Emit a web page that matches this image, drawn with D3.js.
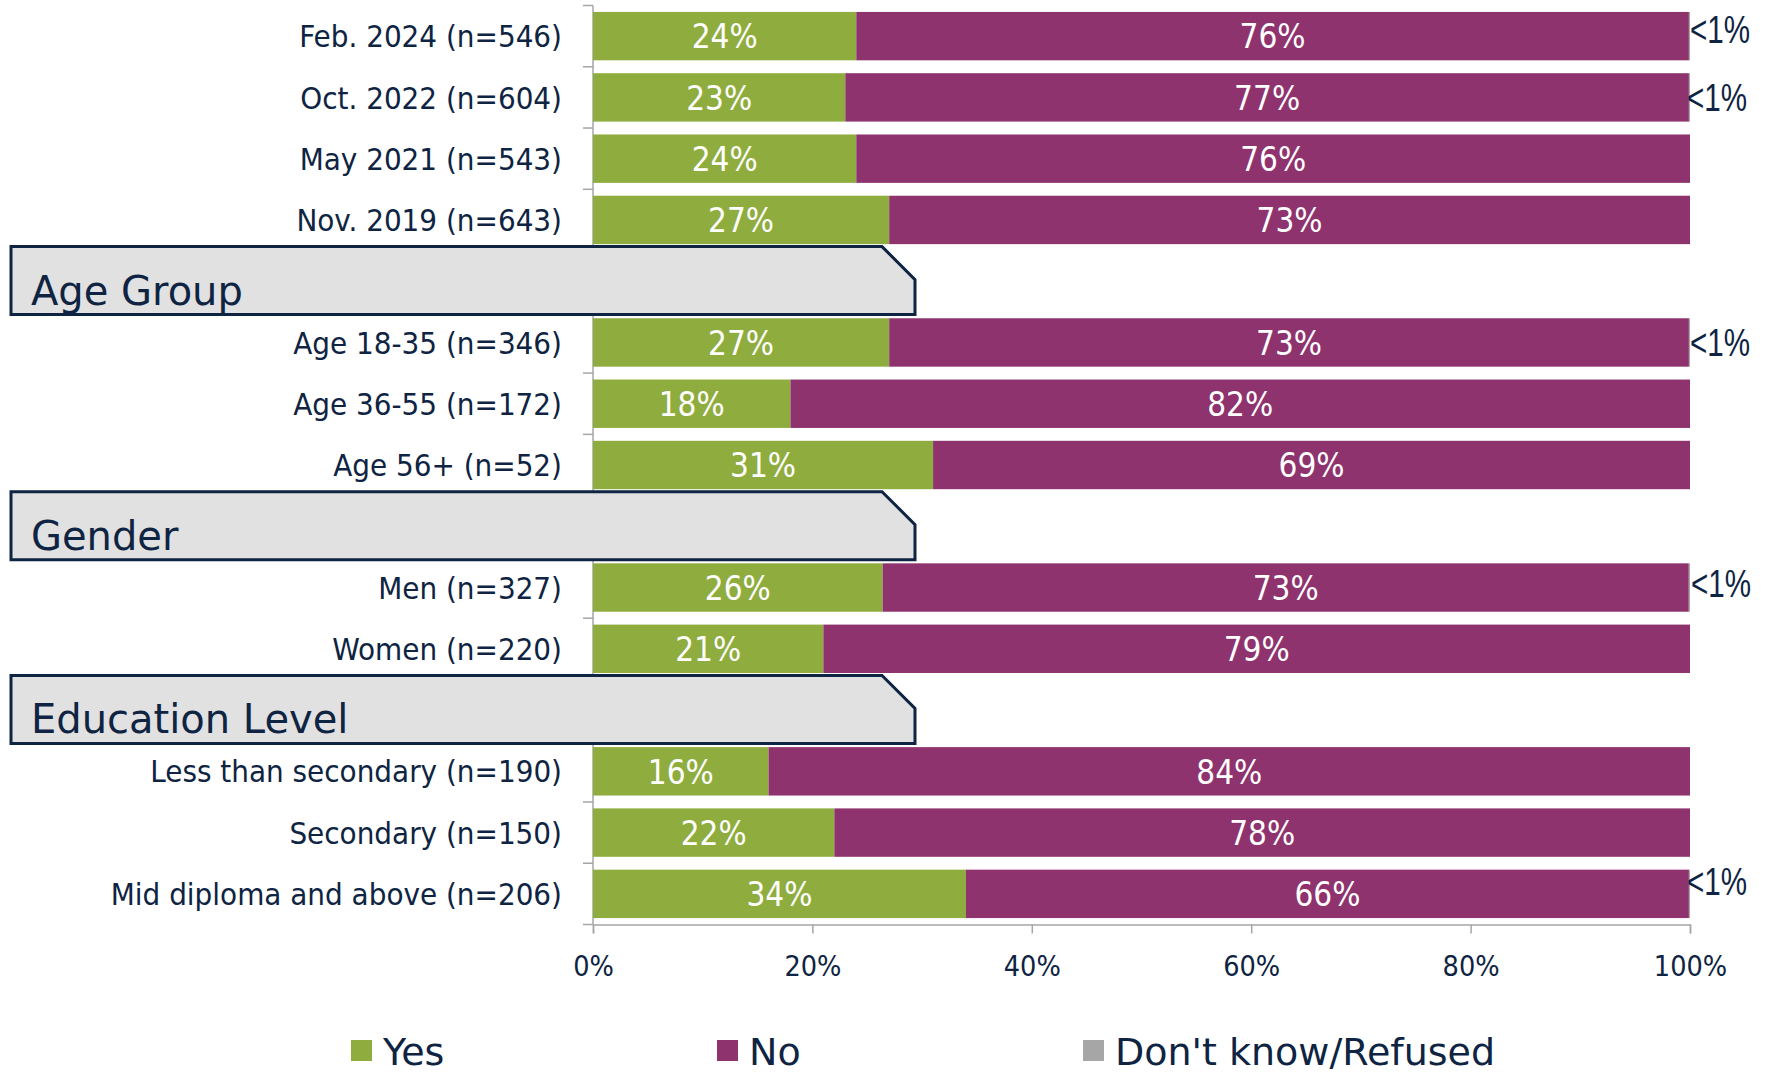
<!DOCTYPE html>
<html>
<head>
<meta charset="utf-8">
<title>Yes / No by group</title>
<script src="https://cdn.jsdelivr.net/npm/d3@7"></script>
<style>
*{
	margin: 0;
	padding: 0;
}
body{
	background: #fff;
}
text{
	font-family: "DejaVu Sans Condensed", "DejaVu Sans", sans-serif;
}
</style>
</head>
<body>
<script>

	// rows in order, header rows take a band but have no bar
	var categories = ["Feb. 2024 (n=546)", "Oct. 2022 (n=604)", "May 2021 (n=543)", "Nov. 2019 (n=643)",
		"Age Group", "Age 18-35 (n=346)", "Age 36-55 (n=172)", "Age 56+ (n=52)",
		"Gender", "Men (n=327)", "Women (n=220)",
		"Education Level", "Less than secondary (n=190)", "Secondary (n=150)", "Mid diploma and above (n=206)"];
	var headers = ["Age Group", "Gender", "Education Level"];

	var yes = [24, 23, 24, 27, null, 27, 18, 31, null, 26.4, 21, null, 16, 22, 34];
	var no  = [75.9, 76.9, 76, 73, null, 72.9, 82, 69, null, 73.49, 79, null, 84, 78, 65.9];
	var dk  = [0.1, 0.1, 0, 0, null, 0.1, 0, 0, null, 0.11, 0, null, 0, 0, 0.1];

	var seriesNames = ["Yes", "No", "Don't know/Refused"];
	var xTicks = [0, 20, 40, 60, 80, 100];

	var colors = ["#8fad3e", "#8f336e", "#a6a6a6"];
	var navy = "#0e2442";

	//"<1%" labels are hand placed a bit in the original [dx, dy]
	var dkNudge = {0: [0, -7], 1: [-3, 0], 5: [0, 0], 9: [1, -4], 14: [-3, -13]};

	var width = 1768;
	var height = 1074;

	var svg = d3.select("body")
				.append("svg")
				.attr("width", width)
				.attr("height", height);

	var x = d3.scaleLinear().domain([0, 100]).range([593, 1690]);
	var y = d3.scaleBand().domain(categories).range([5.5, 924.5])
				.paddingInner(0.21).paddingOuter(0.105);
	var step = y.step();
	var bandTop = (c) => y(c) - step * 0.105;

	var rows = categories.map((c, i) => ({cat: c, yes: yes[i], no: no[i], dk: dk[i], i: i}))
				.filter((d) => headers.indexOf(d.cat) < 0);

	var stack = d3.stack().keys(["yes", "no", "dk"]);
	var series = stack(rows);

	// y axis line + ticks on band edges
	var axisCol = "#a6a6a6";
	svg.append("line")
		.attr("x1", x(0)).attr("x2", x(0))
		.attr("y1", bandTop(categories[0])).attr("y2", y.range()[1])
		.attr("stroke", axisCol).attr("stroke-width", 1.5);

	var edges = d3.range(categories.length + 1).map((k) => y.range()[0] + k * step);
	svg.selectAll(".ytick").data(edges).enter().append("line")
		.attr("x1", x(0) - 10).attr("x2", x(0))
		.attr("y1", (d) => d).attr("y2", (d) => d)
		.attr("stroke", axisCol).attr("stroke-width", 1.5);

	// bars
	var layer = svg.selectAll(".layer").data(series).enter().append("g")
		.attr("fill", (d, k) => colors[k]);

	layer.selectAll("rect").data((d) => d).enter().append("rect")
		.attr("x", (d) => x(d[0]))
		.attr("y", (d) => y(d.data.cat))
		.attr("width", (d) => x(d[1]) - x(d[0]))
		.attr("height", y.bandwidth());

	// value labels in the bars
	series.slice(0, 2).forEach(function(s){
		svg.selectAll(".val" + s.key).data(s).enter().append("text")
			.attr("x", (d) => (x(d[0]) + x(d[1])) / 2)
			.attr("y", (d) => y(d.data.cat) + y.bandwidth() / 2)
			.attr("dy", "0.37em")
			.attr("text-anchor", "middle")
			.attr("fill", "#fff")
			.attr("font-size", 33)
			.text((d) => Math.round(d[1] - d[0]) + "%");
	});

	// tiny "don't know" values outside the bar
	svg.selectAll(".dk").data(rows.filter((d) => d.dk > 0 && d.dk < 1)).enter().append("text")
		.attr("x", (d) => x(100) + (dkNudge[d.i] || [0, 0])[0])
		.attr("y", (d) => y(d.cat) + y.bandwidth() / 2 + (dkNudge[d.i] || [0, 0])[1])
		.attr("dy", "0.36em")
		.attr("fill", navy)
		.attr("font-size", 38)
		.attr("textLength", 60)
		.attr("lengthAdjust", "spacingAndGlyphs")
		.style("font-family", "'Liberation Sans Narrow', 'Liberation Sans', Arial, sans-serif")
		.text("<1%");

	// category labels
	svg.selectAll(".cat").data(rows).enter().append("text")
		.attr("x", x(0) - 31)
		.attr("y", (d) => y(d.cat) + y.bandwidth() / 2)
		.attr("dy", "0.36em")
		.attr("text-anchor", "end")
		.attr("fill", navy)
		.attr("font-size", 31)
		.text((d) => d.cat);

	// section header tabs
	var tab = svg.selectAll(".tab").data(headers).enter().append("g")
		.attr("transform", (d) => "translate(0," + (bandTop(d) - 4) + ")");

	tab.append("path")
		.attr("d", "M11,0 H882 L915,33 V68 H11 Z")
		.attr("fill", "#e1e1e1")
		.attr("stroke", navy)
		.attr("stroke-width", 3);

	tab.append("text")
		.attr("x", 31)
		.attr("y", 58)
		.attr("fill", navy)
		.attr("font-size", 40)
		.style("font-family", "'DejaVu Sans', sans-serif")
		.text((d) => d);

	// x axis
	var xAxis = svg.append("g")
		.attr("transform", "translate(0," + y.range()[1] + ")")
		.call(d3.axisBottom(x).tickValues(xTicks).tickSize(9).tickFormat((d) => d + "%"));
	xAxis.select(".domain").attr("stroke", axisCol).attr("stroke-width", 1.5);
	xAxis.selectAll(".tick line").attr("stroke", axisCol).attr("stroke-width", 1.5);
	xAxis.selectAll(".tick text")
		.attr("fill", navy)
		.attr("font-size", 28.5)
		.attr("font-family", "'DejaVu Sans Condensed', 'DejaVu Sans', sans-serif")
		.attr("y", 31);

	// legend
	var legend = svg.selectAll(".leg").data(seriesNames).enter().append("g")
		.attr("transform", (d, k) => "translate(" + (351 + k * 366) + ",1040)");
	legend.append("rect")
		.attr("width", 21).attr("height", 21)
		.attr("fill", (d, k) => colors[k]);
	legend.append("text")
		.attr("x", 32)
		.attr("y", 11)
		.attr("dy", "0.36em")
		.attr("fill", navy)
		.attr("font-size", 38)
		.style("font-family", "'DejaVu Sans', sans-serif")
		.text((d) => d);

</script>
</body>
</html>
